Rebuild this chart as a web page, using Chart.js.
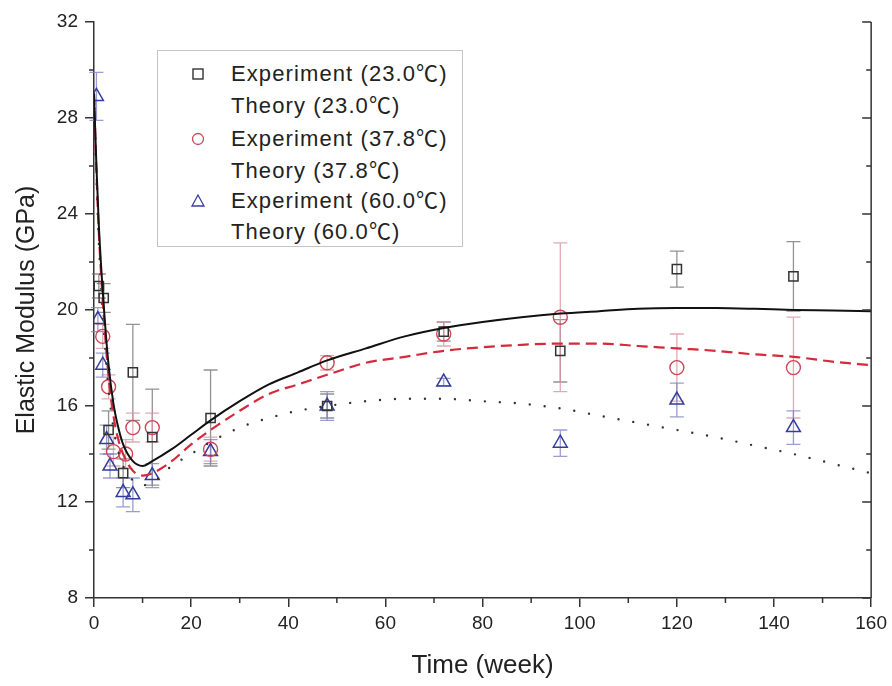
<!DOCTYPE html>
<html><head><meta charset="utf-8">
<script src="https://cdn.jsdelivr.net/npm/chart.js@4.4.0/dist/chart.umd.min.js"></script>
<style>
html,body{margin:0;padding:0;background:#fff;}
#wrap{position:relative;width:892px;height:686px;}
#legend{position:absolute;left:157px;top:50px;width:306px;height:197px;border:1px solid #c4c4c4;box-sizing:border-box;background:#fff;font-family:"Liberation Sans",Arial,"Noto Sans CJK SC",sans-serif;font-size:22px;letter-spacing:1.1px;color:#222;}
.row{position:absolute;left:73px;height:30px;line-height:30px;white-space:nowrap;}
.mk{position:absolute;left:31px;width:18px;height:18px;}
</style>
</head><body>
<div id="wrap">
<canvas id="c" width="892" height="686"></canvas>
<div id="legend">
  <svg class="mk" style="top:14px" viewBox="0 0 18 18"><rect x="4" y="4" width="10" height="10" fill="none" stroke="#333" stroke-width="1.4"/></svg>
  <div class="row" style="top:8px">Experiment (23.0℃)</div>
  <div class="row" style="top:40px">Theory (23.0℃)</div>
  <svg class="mk" style="top:79px" viewBox="0 0 18 18"><circle cx="9" cy="9" r="5.5" fill="none" stroke="#c84a58" stroke-width="1.3"/></svg>
  <div class="row" style="top:73px">Experiment (37.8℃)</div>
  <div class="row" style="top:105px">Theory (37.8℃)</div>
  <svg class="mk" style="top:141px" viewBox="0 0 18 18"><polygon points="9,3 15,14 3,14" fill="none" stroke="#3a3f9a" stroke-width="1.3"/></svg>
  <div class="row" style="top:135px">Experiment (60.0℃)</div>
  <div class="row" style="top:166px">Theory (60.0℃)</div>
</div>
</div>
<script>
// ---- Data ----
const xTickLabels = [0, 20, 40, 60, 80, 100, 120, 140, 160];
const yTickLabels = [8, 12, 16, 20, 24, 28, 32];

// Experiments: time (week), modulus (GPa), error (+/- GPa)
const expTime23 = [1, 2, 3, 6, 8, 12, 24, 48, 72, 96, 120, 144];
const exp23     = [21.0, 20.5, 15.0, 13.2, 17.4, 14.7, 15.5, 16.0, 19.1, 18.3, 21.7, 21.4];
const err23     = [0.5, 0.6, 0.8, 0.6, 2.0, 2.0, 2.0, 0.5, 0.4, 1.3, 0.75, 1.45];

const expTime37 = [1.8, 3, 4, 6.5, 8, 12, 24, 48, 72, 96, 120, 144];
const exp37     = [18.9, 16.8, 14.1, 14.0, 15.1, 15.1, 14.2, 17.8, 19.0, 19.7, 17.6, 17.6];
const err37     = [0.5, 0.5, 0.6, 0.6, 0.6, 0.6, 0.5, 0.3, 0.5, 3.1, 1.4, 2.1];

const expTime60 = [0.5, 0.8, 1.8, 2.6, 3.3, 6, 8, 12, 24, 48, 72, 96, 120, 144];
const exp60     = [28.9, 19.6, 17.7, 14.6, 13.5, 12.4, 12.3, 13.1, 14.1, 16.0, 17.0, 14.45, 16.25, 15.1];
const err60     = [1.0, 0.5, 0.5, 0.6, 0.5, 0.6, 0.7, 0.5, 0.5, 0.6, 0.15, 0.55, 0.7, 0.7];

// Theory curves
const theoryTime = [0, 0.5, 1, 2, 3, 4, 5, 6, 8, 10, 12, 16, 20, 24, 30, 36, 42, 48, 56, 64, 72, 80, 88, 96, 104, 112, 120, 128, 136, 144, 152, 160];
const theory23 = [29.0, 26.0, 23.5, 20.2, 17.7, 16.1, 15.1, 14.4, 13.7, 13.5, 13.7, 14.2, 14.8, 15.4, 16.2, 16.9, 17.4, 17.9, 18.4, 18.9, 19.25, 19.5, 19.7, 19.85, 19.95, 20.05, 20.08, 20.08, 20.05, 20.0, 19.98, 19.95];
const theory37 = [29.0, 25.8, 23.2, 19.8, 17.2, 15.6, 14.6, 14.0, 13.3, 13.1, 13.2, 13.7, 14.4, 15.0, 15.8, 16.5, 16.9, 17.3, 17.8, 18.05, 18.3, 18.45, 18.55, 18.6, 18.6, 18.5, 18.4, 18.3, 18.15, 18.05, 17.85, 17.7];
const theory60 = [29.0, 25.5, 22.8, 19.3, 16.7, 15.1, 14.1, 13.5, 12.9, 12.7, 12.8, 13.5, 14.0, 14.5, 15.1, 15.5, 15.8, 16.0, 16.2, 16.3, 16.3, 16.2, 16.1, 15.9, 15.6, 15.3, 15.0, 14.7, 14.35, 14.0, 13.6, 13.2];

const pts = (xs, ys) => xs.map((x, i) => ({x: x, y: ys[i]}));

const errGroups = [
  {t: expTime23, v: exp23, e: err23, color: 'rgba(110,110,110,0.75)'},
  {t: expTime37, v: exp37, e: err37, color: 'rgba(215,150,160,0.8)'},
  {t: expTime60, v: exp60, e: err60, color: 'rgba(120,125,190,0.75)'}
];

const errorBars = {
  id: 'errorBars',
  beforeDatasetsDraw(chart) {
    const {ctx, scales: {x, y}} = chart;
    errGroups.forEach(g => {
      ctx.save();
      ctx.strokeStyle = g.color;
      ctx.lineWidth = 1.3;
      g.t.forEach((t, i) => {
        const px = x.getPixelForValue(t);
        const top = y.getPixelForValue(g.v[i] + g.e[i]);
        const bot = y.getPixelForValue(g.v[i] - g.e[i]);
        ctx.beginPath();
        ctx.moveTo(px, top); ctx.lineTo(px, bot);
        ctx.moveTo(px - 7, top); ctx.lineTo(px + 7, top);
        ctx.moveTo(px - 7, bot); ctx.lineTo(px + 7, bot);
        ctx.stroke();
      });
      ctx.restore();
    });
  }
};

const frame = {
  id: 'frame',
  afterDraw(chart) {
    const {ctx, chartArea: a, scales: {x, y}} = chart;
    ctx.save();
    ctx.strokeStyle = '#333';
    ctx.lineWidth = 1.5;
    ctx.beginPath();
    ctx.moveTo(a.right, a.top); ctx.lineTo(a.right, a.bottom);
    ctx.stroke();
    ctx.beginPath();
    for (let v = 10; v < 160; v += 20) {
      const px = x.getPixelForValue(v);
      ctx.moveTo(px, a.bottom); ctx.lineTo(px, a.bottom + 5);
    }
    for (let v = 10; v < 32; v += 4) {
      const py = y.getPixelForValue(v);
      ctx.moveTo(a.left, py); ctx.lineTo(a.left - 5, py);
    }
    for (let v = 8; v <= 32; v += 2) {
      const py = y.getPixelForValue(v);
      const len = (v % 4 === 0) ? 9 : 5;
      ctx.moveTo(a.right, py); ctx.lineTo(a.right - len, py);
    }
    ctx.stroke();
    ctx.restore();
  }
};

const tickFont = {family: '"Liberation Sans", Arial, sans-serif', size: 19};

new Chart(document.getElementById('c'), {
  type: 'scatter',
  data: {
    datasets: [
      {label: 'Theory (23.0℃)', data: pts(theoryTime, theory23), showLine: true, borderColor: '#111', borderWidth: 2, pointRadius: 0, cubicInterpolationMode: 'monotone', fill: false},
      {label: 'Theory (37.8℃)', data: pts(theoryTime, theory37), showLine: true, borderColor: '#d42a3a', borderWidth: 2.2, borderDash: [11, 6], pointRadius: 0, cubicInterpolationMode: 'monotone', fill: false},
      {label: 'Theory (60.0℃)', data: pts(theoryTime, theory60), showLine: true, borderColor: '#333', borderWidth: 2.4, borderDash: [0, 15], borderCapStyle: 'round', pointRadius: 0, cubicInterpolationMode: 'monotone', fill: false},
      {label: 'Experiment (23.0℃)', data: pts(expTime23, exp23), showLine: false, pointStyle: 'rect', pointRadius: 6.5, borderColor: '#333', borderWidth: 1.5, backgroundColor: 'rgba(0,0,0,0)'},
      {label: 'Experiment (37.8℃)', data: pts(expTime37, exp37), showLine: false, pointStyle: 'circle', pointRadius: 7, borderColor: '#cc4656', borderWidth: 1.4, backgroundColor: 'rgba(0,0,0,0)'},
      {label: 'Experiment (60.0℃)', data: pts(expTime60, exp60), showLine: false, pointStyle: 'triangle', pointRadius: 8, borderColor: '#333d9c', borderWidth: 1.5, backgroundColor: 'rgba(0,0,0,0)'}
    ]
  },
  options: {
    responsive: false,
    animation: false,
    events: [],
    layout: {padding: {top: 22, right: 17, left: 8, bottom: 1}},
    plugins: {legend: {display: false}, tooltip: {enabled: false}},
    scales: {
      x: {
        type: 'linear', min: 0, max: 160,
        afterBuildTicks(s) { s.ticks = xTickLabels.map(v => ({value: v})); },
        ticks: {font: tickFont, color: '#222', padding: 5, maxRotation: 0},
        grid: {display: true, drawOnChartArea: false, drawTicks: true, tickLength: 9, color: '#333', lineWidth: 1.5},
        border: {display: true, color: '#333', width: 1.5},
        title: {display: true, text: 'Time (week)', font: {family: '"Liberation Sans", Arial, sans-serif', size: 26}, color: '#222'},
        afterFit(s) { s.height = 87; }
      },
      y: {
        type: 'linear', min: 8, max: 32,
        afterBuildTicks(s) { s.ticks = yTickLabels.map(v => ({value: v})); },
        ticks: {font: tickFont, color: '#222', padding: 7},
        grid: {display: true, drawOnChartArea: false, drawTicks: true, tickLength: 9, color: '#333', lineWidth: 1.5},
        border: {display: true, color: '#333', width: 1.5},
        title: {display: true, text: 'Elastic Modulus (GPa)', font: {family: '"Liberation Sans", Arial, sans-serif', size: 25}, color: '#222'},
        afterFit(s) { s.width = 86; }
      }
    }
  },
  plugins: [errorBars, frame]
});
</script>
</body></html>
